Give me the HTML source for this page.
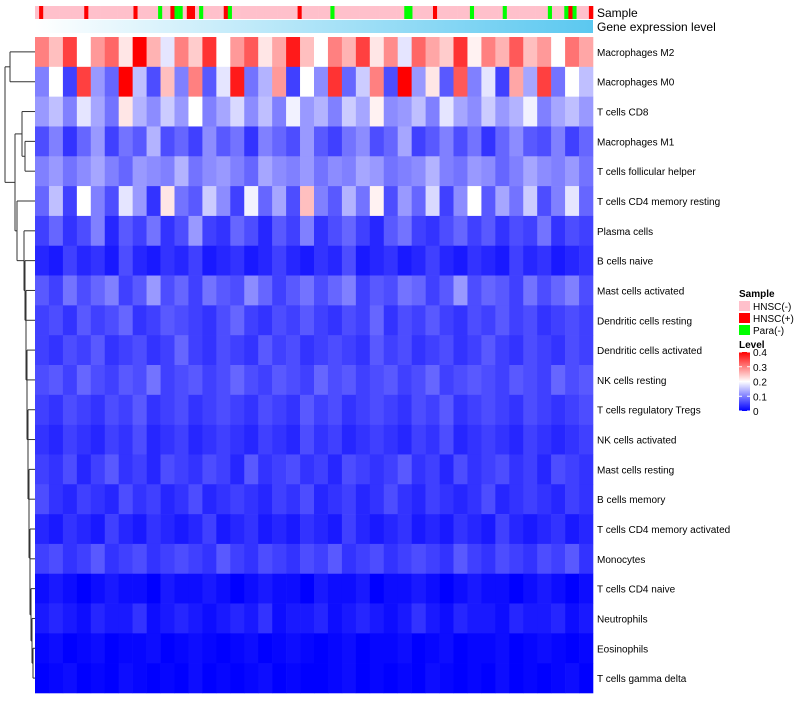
<!DOCTYPE html>
<html><head><meta charset="utf-8"><style>
body{margin:0;background:#fff;font-family:"Liberation Sans",sans-serif}
svg text{font-family:"Liberation Sans",sans-serif}
</style></head><body>
<svg id="c" width="800" height="700">
<defs>
<linearGradient id="ge" x1="0" x2="1"><stop offset="0" stop-color="#ffffff"/><stop offset="1" stop-color="#5bc8f0"/></linearGradient>
<linearGradient id="lv" x1="0" y1="1" x2="0" y2="0"><stop offset="0" stop-color="#0000ff"/><stop offset="0.5" stop-color="#ffffff"/><stop offset="1" stop-color="#ff0000"/></linearGradient>
</defs>
<g id="dend" stroke="#333" fill="none" stroke-width="1"></g>
<g id="ann"></g>
<rect x="35" y="20" width="558" height="13" fill="url(#ge)"/>
<text x="597" y="17" font-size="12">Sample</text>
<text x="597" y="31" font-size="12">Gene expression level</text>
<g id="cells"></g>
<g id="labels" font-size="10"></g>
<g>
<text x="739" y="297" font-size="10" font-weight="bold">Sample</text>
<rect x="739" y="301" width="11" height="10" fill="#ffc0cb"/>
<text x="753" y="310" font-size="10">HNSC(-)</text>
<rect x="739" y="313" width="11" height="10" fill="#ff0000"/>
<text x="753" y="322" font-size="10">HNSC(+)</text>
<rect x="739" y="325" width="11" height="10" fill="#00ff00"/>
<text x="753" y="334" font-size="10">Para(-)</text>
<text x="739" y="348" font-size="10" font-weight="bold">Level</text>
<rect x="739" y="352" width="11" height="59" fill="url(#lv)"/>
<g font-size="10" id="lvticks"></g>
</g>
</svg>
<script>
const rowNames=["Macrophages M2","Macrophages M0","T cells CD8","Macrophages M1","T cells follicular helper","T cells CD4 memory resting","Plasma cells","B cells naive","Mast cells activated","Dendritic cells resting","Dendritic cells activated","NK cells resting","T cells regulatory  Tregs","NK cells activated","Mast cells resting","B cells memory","T cells CD4 memory activated","Monocytes","T cells CD4 naive","Neutrophils","Eosinophils","T cells gamma delta"];
const sampleGroups=[0,1,0,0,0,0,0,0,0,0,0,0,1,0,0,0,0,0,0,0,0,0,0,0,1,0,0,0,0,0,2,0,0,1,2,2,0,1,1,0,2,0,0,0,0,0,1,2,0,0,0,0,0,0,0,0,0,0,0,0,0,0,0,0,1,0,0,0,0,0,0,0,2,0,0,0,0,0,0,0,0,0,0,0,0,0,0,0,0,0,2,2,0,0,0,0,0,1,0,0,0,0,0,0,0,0,2,0,0,0,0,0,0,0,2,0,0,0,0,0,0,0,0,0,0,2,0,0,0,2,1,2,0,0,0,1];
const levelTicks=[0,0.1,0.2,0.3,0.4];
const r0=[.3,.25,.35,.2,.28,.32,.22,.4,.26,.18,.3,.24,.36,.2,.28,.33,.22,.27,.38,.25,.2,.3,.26,.35,.22,.29,.18,.32,.27,.24,.36,.21,.3,.26,.33,.25,.28,.2,.31,.27];
const r1=[.1,.2,.05,.35,.12,.08,.4,.15,.06,.25,.1,.3,.07,.18,.38,.09,.14,.28,.05,.2,.11,.36,.08,.16,.3,.06,.4,.12,.22,.07,.33,.1,.18,.05,.27,.13,.35,.09,.2,.15];
const r2=[.12,.15,.1,.18,.13,.09,.22,.14,.11,.16,.12,.2,.1,.13,.17,.11,.15,.1,.19,.12,.14,.1,.16,.13,.21,.11,.12,.15,.1,.18,.13,.11,.16,.12,.14,.19,.1,.13,.15,.12];
const r3=[.06,.1,.04,.08,.12,.05,.09,.07,.14,.06,.08,.05,.11,.07,.09,.04,.1,.08,.06,.12,.07,.05,.09,.11,.06,.08,.13,.05,.07,.1,.06,.09,.04,.08,.11,.07,.06,.1,.05,.08];
const r4=[.1,.12,.09,.11,.13,.1,.08,.12,.11,.1,.14,.09,.11,.12,.1,.08,.13,.11,.1,.12,.09,.11,.1,.13,.12,.09,.1,.11,.14,.1,.09,.12,.11,.08,.1,.13,.11,.1,.12,.09];
const r5=[.08,.15,.05,.2,.1,.06,.18,.12,.04,.22,.09,.07,.16,.11,.05,.19,.08,.13,.06,.25,.1,.07,.14,.09,.21,.06,.12,.08,.17,.05,.11,.2,.07,.13,.09,.16,.06,.1,.18,.08];
const r6=[.05,.08,.04,.06,.1,.03,.07,.05,.09,.04,.06,.12,.05,.04,.08,.06,.03,.07,.05,.1,.04,.06,.08,.05,.03,.07,.09,.05,.04,.06,.08,.05,.07,.04,.06,.05,.09,.04,.06,.05];
const r7=[.03,.02,.05,.03,.04,.02,.06,.03,.02,.04,.03,.05,.02,.03,.04,.02,.03,.05,.03,.02,.04,.03,.06,.02,.03,.04,.02,.03,.05,.03,.02,.04,.03,.02,.05,.03,.04,.02,.03,.04];
const r8=[.07,.05,.09,.06,.08,.1,.05,.07,.12,.06,.08,.05,.09,.07,.06,.11,.08,.05,.07,.09,.06,.08,.1,.05,.07,.06,.09,.08,.05,.07,.12,.06,.08,.07,.05,.09,.06,.08,.1,.06];
const r9=[.05,.06,.04,.07,.05,.06,.08,.04,.05,.07,.06,.05,.04,.06,.08,.05,.04,.06,.05,.07,.05,.04,.06,.05,.08,.04,.06,.05,.07,.05,.04,.06,.05,.07,.05,.06,.04,.05,.06,.05];
const r10=[.05,.04,.06,.05,.07,.04,.05,.06,.04,.05,.08,.05,.04,.06,.05,.04,.07,.05,.06,.04,.05,.06,.05,.04,.07,.05,.06,.04,.05,.06,.04,.05,.07,.05,.04,.06,.05,.04,.06,.05];
const r11=[.06,.07,.05,.08,.06,.05,.07,.06,.09,.05,.06,.07,.05,.06,.08,.06,.05,.07,.06,.05,.08,.06,.07,.05,.06,.07,.05,.06,.08,.05,.06,.07,.06,.05,.07,.06,.05,.08,.06,.07];
const r12=[.05,.04,.06,.05,.04,.06,.05,.07,.04,.05,.06,.04,.05,.06,.05,.04,.06,.05,.04,.07,.05,.06,.04,.05,.06,.05,.04,.06,.05,.07,.04,.05,.06,.05,.04,.06,.05,.04,.05,.06];
const r13=[.04,.03,.05,.04,.03,.05,.04,.06,.03,.04,.05,.03,.04,.05,.04,.03,.05,.04,.03,.06,.04,.05,.03,.04,.05,.04,.03,.05,.04,.06,.03,.04,.05,.04,.03,.05,.04,.03,.04,.05];
const r14=[.05,.04,.06,.03,.05,.07,.04,.05,.03,.06,.05,.04,.06,.05,.03,.07,.04,.05,.06,.04,.05,.03,.06,.05,.04,.05,.07,.04,.05,.03,.06,.04,.05,.06,.04,.05,.03,.06,.05,.04];
const r15=[.06,.04,.03,.05,.04,.03,.06,.04,.05,.03,.04,.06,.03,.04,.05,.04,.03,.05,.04,.06,.03,.04,.05,.03,.04,.06,.04,.03,.05,.04,.03,.04,.06,.03,.04,.05,.04,.03,.05,.04];
const r16=[.03,.02,.04,.03,.02,.05,.03,.02,.04,.03,.02,.03,.05,.02,.03,.04,.02,.03,.02,.04,.03,.02,.05,.03,.02,.03,.04,.02,.03,.02,.04,.03,.02,.05,.03,.02,.03,.04,.02,.03];
const r17=[.05,.06,.04,.05,.07,.04,.05,.06,.04,.05,.06,.05,.04,.07,.05,.04,.06,.05,.04,.06,.05,.07,.04,.05,.06,.04,.05,.06,.05,.04,.07,.05,.04,.06,.05,.04,.06,.05,.07,.04];
const r18=[.01,.02,.01,0,.01,.02,.01,.01,0,.02,.01,.01,.02,.01,0,.01,.02,.01,.01,0,.02,.01,.01,.02,0,.01,.01,.02,.01,0,.01,.02,.01,.01,0,.01,.02,.01,0,.01];
const r19=[.02,.03,.02,.01,.03,.02,.02,.04,.01,.02,.03,.02,.01,.02,.03,.02,.04,.01,.02,.02,.03,.01,.02,.03,.02,.01,.02,.04,.02,.01,.03,.02,.02,.01,.03,.02,.02,.03,.01,.02];
const r20=[.005,.01,0,.005,.01,0,.005,.005,.01,0,.005,.01,.005,0,.005,.01,0,.005,.01,.005,0,.005,.01,0,.005,.005,.01,0,.005,.01,0,.005,.005,.01,0,.005,.01,.005,0,.005];
const r21=[0,.005,.01,0,.005,0,.01,.005,0,.005,0,.01,0,.005,0,.005,.01,0,.005,0,0,.005,.01,0,.005,0,.005,0,.01,.005,0,.005,0,.01,0,.005,0,.005,.01,0];
const values=[r0,r1,r2,r3,r4,r5,r6,r7,r8,r9,r10,r11,r12,r13,r14,r15,r16,r17,r18,r19,r20,r21];

const NS="http://www.w3.org/2000/svg";
const X0=35,X1=593,Y0=37,Y1=693;
const nCol=values[0].length, nRow=rowNames.length, nSamp=sampleGroups.length;
const xS=i=>X0+i*(X1-X0)/nCol;
const xA=i=>X0+i*(X1-X0)/nSamp;
const yS=j=>Y0+j*(Y1-Y0)/nRow;
const lvY=v=>411-v/0.4*59;
function col(v){v=Math.max(0,Math.min(0.4,v));let r,g,b;
 if(v<0.2){const t=v/0.2;r=g=Math.round(255*t);b=255;}else{const t=(v-0.2)/0.2;r=255;g=b=Math.round(255*(1-t));}
 return `rgb(${r},${g},${b})`;}
const grpCol=["#ffc0cb","#ff0000","#00ff00"];
function mk(t,a,p){const e=document.createElementNS(NS,t);for(const k in a)e.setAttribute(k,a[k]);p.appendChild(e);return e;}
const ann=document.getElementById('ann');
sampleGroups.forEach((g,i)=>{const e=mk('rect',{x:xA(i),y:6,width:(X1-X0)/nSamp+0.3,height:13,fill:grpCol[g]},ann);

});
const cells=document.getElementById('cells');
values.forEach((row,j)=>row.forEach((v,i)=>{const e=mk('rect',{x:xS(i),y:yS(j),width:(X1-X0)/nCol+0.3,height:(Y1-Y0)/nRow+0.3,fill:col(v)},cells);

}));
const lab=document.getElementById('labels');
rowNames.forEach((n,j)=>{const e=mk('text',{x:597,y:yS(j)+(Y1-Y0)/nRow/2+4},lab);e.textContent=n;

});
const lt=document.getElementById('lvticks');
levelTicks.forEach(v=>{const e=mk('text',{x:753,y:lvY(v)+4},lt);e.textContent=v;


mk('line',{x1:739,x2:742,y1:lvY(v),y2:lvY(v),stroke:'#fff'},lt);mk('line',{x1:747,x2:750,y1:lvY(v),y2:lvY(v),stroke:'#fff'},lt);});
const d=document.getElementById('dend');
const cy=j=>yS(j)+(Y1-Y0)/nRow/2;
function seg(x1,y1,x2,y2){mk('line',{x1,y1,x2,y2},d);}
function join(xa,ya,xb,yb,xn){seg(xa,ya,xn,ya);seg(xb,yb,xn,yb);seg(xn,ya,xn,yb);return (ya+yb)/2;}
const m01=join(35,cy(0),35,cy(1),10);
const m34=join(35,cy(3),35,cy(4),25);
const m234=join(35,cy(2),25,m34,22);
let chain=cy(21), cx=35;
const chainX=[33,32,31,30,30,29,29,28,28,27,27,26,26,25,24,23,22,20,18];
for(let j=20,k=0;j>=6;j--,k++){const x=chainX[k];chain=join(35,cy(j),cx,chain,x);cx=x;}
const m5=join(35,cy(5),cx,chain,17);
const mA=join(22,m234,17,m5,15);
join(10,m01,15,mA,5);
</script>
</body></html>
